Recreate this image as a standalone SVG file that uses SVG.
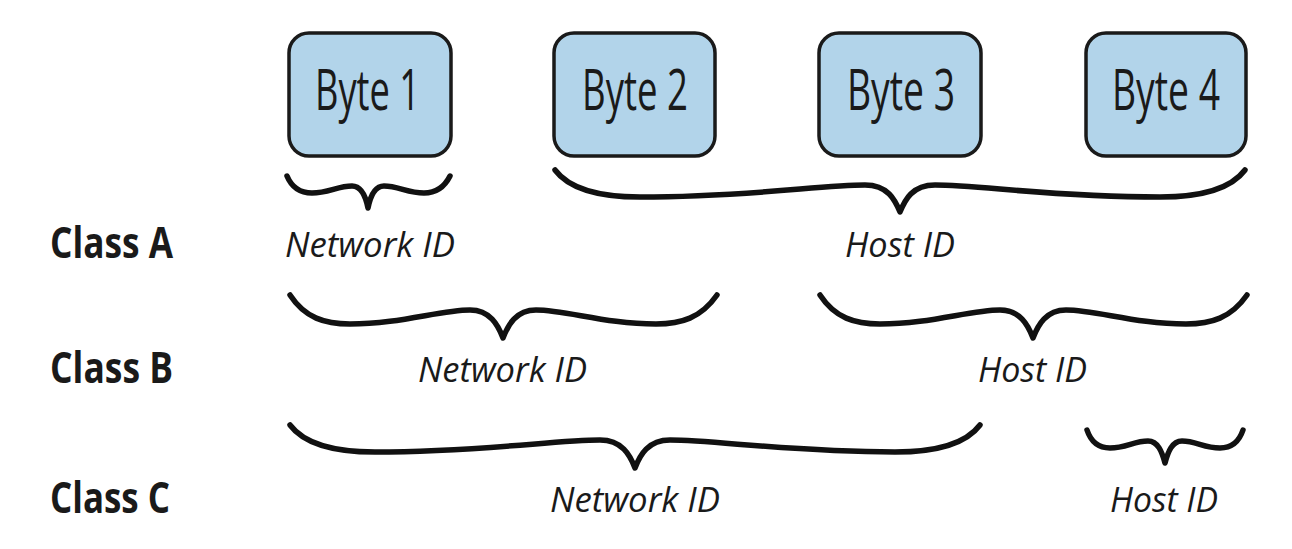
<svg xmlns="http://www.w3.org/2000/svg" width="1292" height="549" viewBox="0 0 1292 549">
<style>
.box{fill:#b2d4ea;stroke:#1a1a1a;stroke-width:3.5}
.bt{font-family:"Open Sans","Liberation Sans",sans-serif;font-size:57px;fill:#1a1a1a;text-anchor:start}
.cls{font-family:"Open Sans","Liberation Sans",sans-serif;font-weight:bold;font-size:43px;fill:#1a1a1a}
.lab{font-family:"Open Sans","Liberation Sans",sans-serif;font-style:italic;font-size:34px;fill:#1a1a1a}
.brace{fill:none;stroke:#111;stroke-width:5.5;stroke-linecap:round;stroke-linejoin:round}
</style>
<rect width="1292" height="549" fill="#fff"/>
<g id="byte1"><rect class="box" x="289" y="33" width="162" height="123" rx="20"/><text class="bt" x="315" y="110" textLength="105" lengthAdjust="spacingAndGlyphs">Byte 1</text></g>
<g id="byte2"><rect class="box" x="554" y="33" width="161" height="123" rx="20"/><text class="bt" x="582" y="110" textLength="106" lengthAdjust="spacingAndGlyphs">Byte 2</text></g>
<g id="byte3"><rect class="box" x="819" y="33" width="162" height="123" rx="20"/><text class="bt" x="847" y="110" textLength="108" lengthAdjust="spacingAndGlyphs">Byte 3</text></g>
<g id="byte4"><rect class="box" x="1086" y="33" width="160" height="123" rx="20"/><text class="bt" x="1112" y="110" textLength="108" lengthAdjust="spacingAndGlyphs">Byte 4</text></g>
<g id="classes">
<text class="cls" x="50" y="258" textLength="123" lengthAdjust="spacingAndGlyphs">Class A</text>
<text class="cls" x="50" y="383" textLength="123" lengthAdjust="spacingAndGlyphs">Class B</text>
<text class="cls" x="50" y="513" textLength="120" lengthAdjust="spacingAndGlyphs">Class C</text>
</g>
<g id="braces">
<path class="brace" d="M287,176 C292,188 300,193 312,193 C328,193 338,186 352,186 C362,186 366,198 368,208 C370,198 374,186 384,186 C398,186 408,193 424,193 C436,193 444,188 450,176"/>
<path class="brace" d="M555,170 C570,190 600,197 640,197 C750,197 820,185 865,185 C888,185 895,200 900,212 C905,200 912,185 935,185 C980,185 1050,197 1160,197 C1200,197 1230,190 1245,170"/>
<path class="brace" d="M290,295 C305,318 325,324 350,324 C400,324 440,310 470,310 C490,310 498,325 503,338 C508,325 516,310 536,310 C566,310 606,324 656,324 C681,324 701,318 717,295"/>
<path class="brace" d="M820,295 C835,318 855,324 880,324 C930,324 970,310 1000,310 C1020,310 1028,325 1033,338 C1038,325 1046,310 1066,310 C1096,310 1136,324 1186,324 C1211,324 1231,318 1247,295"/>
<path class="brace" d="M290,425 C305,445 335,452 375,452 C480,452 555,440 600,440 C622,440 630,455 635,468 C640,455 648,440 670,440 C715,440 790,452 895,452 C935,452 965,445 980,425"/>
<path class="brace" d="M1087,430 C1091,442 1098,448 1110,448 C1126,448 1134,441 1148,441 C1158,441 1162,452 1165,463 C1168,452 1172,441 1182,441 C1196,441 1204,448 1220,448 C1232,448 1239,442 1243,430"/>
</g>
<g id="labels">
<text class="lab" x="285" y="257" textLength="170" lengthAdjust="spacingAndGlyphs">Network ID</text>
<text class="lab" x="845" y="257" textLength="110" lengthAdjust="spacingAndGlyphs">Host ID</text>
<text class="lab" x="418" y="382" textLength="169" lengthAdjust="spacingAndGlyphs">Network ID</text>
<text class="lab" x="978" y="382" textLength="109" lengthAdjust="spacingAndGlyphs">Host ID</text>
<text class="lab" x="550" y="512" textLength="170" lengthAdjust="spacingAndGlyphs">Network ID</text>
<text class="lab" x="1110" y="512" textLength="108" lengthAdjust="spacingAndGlyphs">Host ID</text>
</g>
</svg>
